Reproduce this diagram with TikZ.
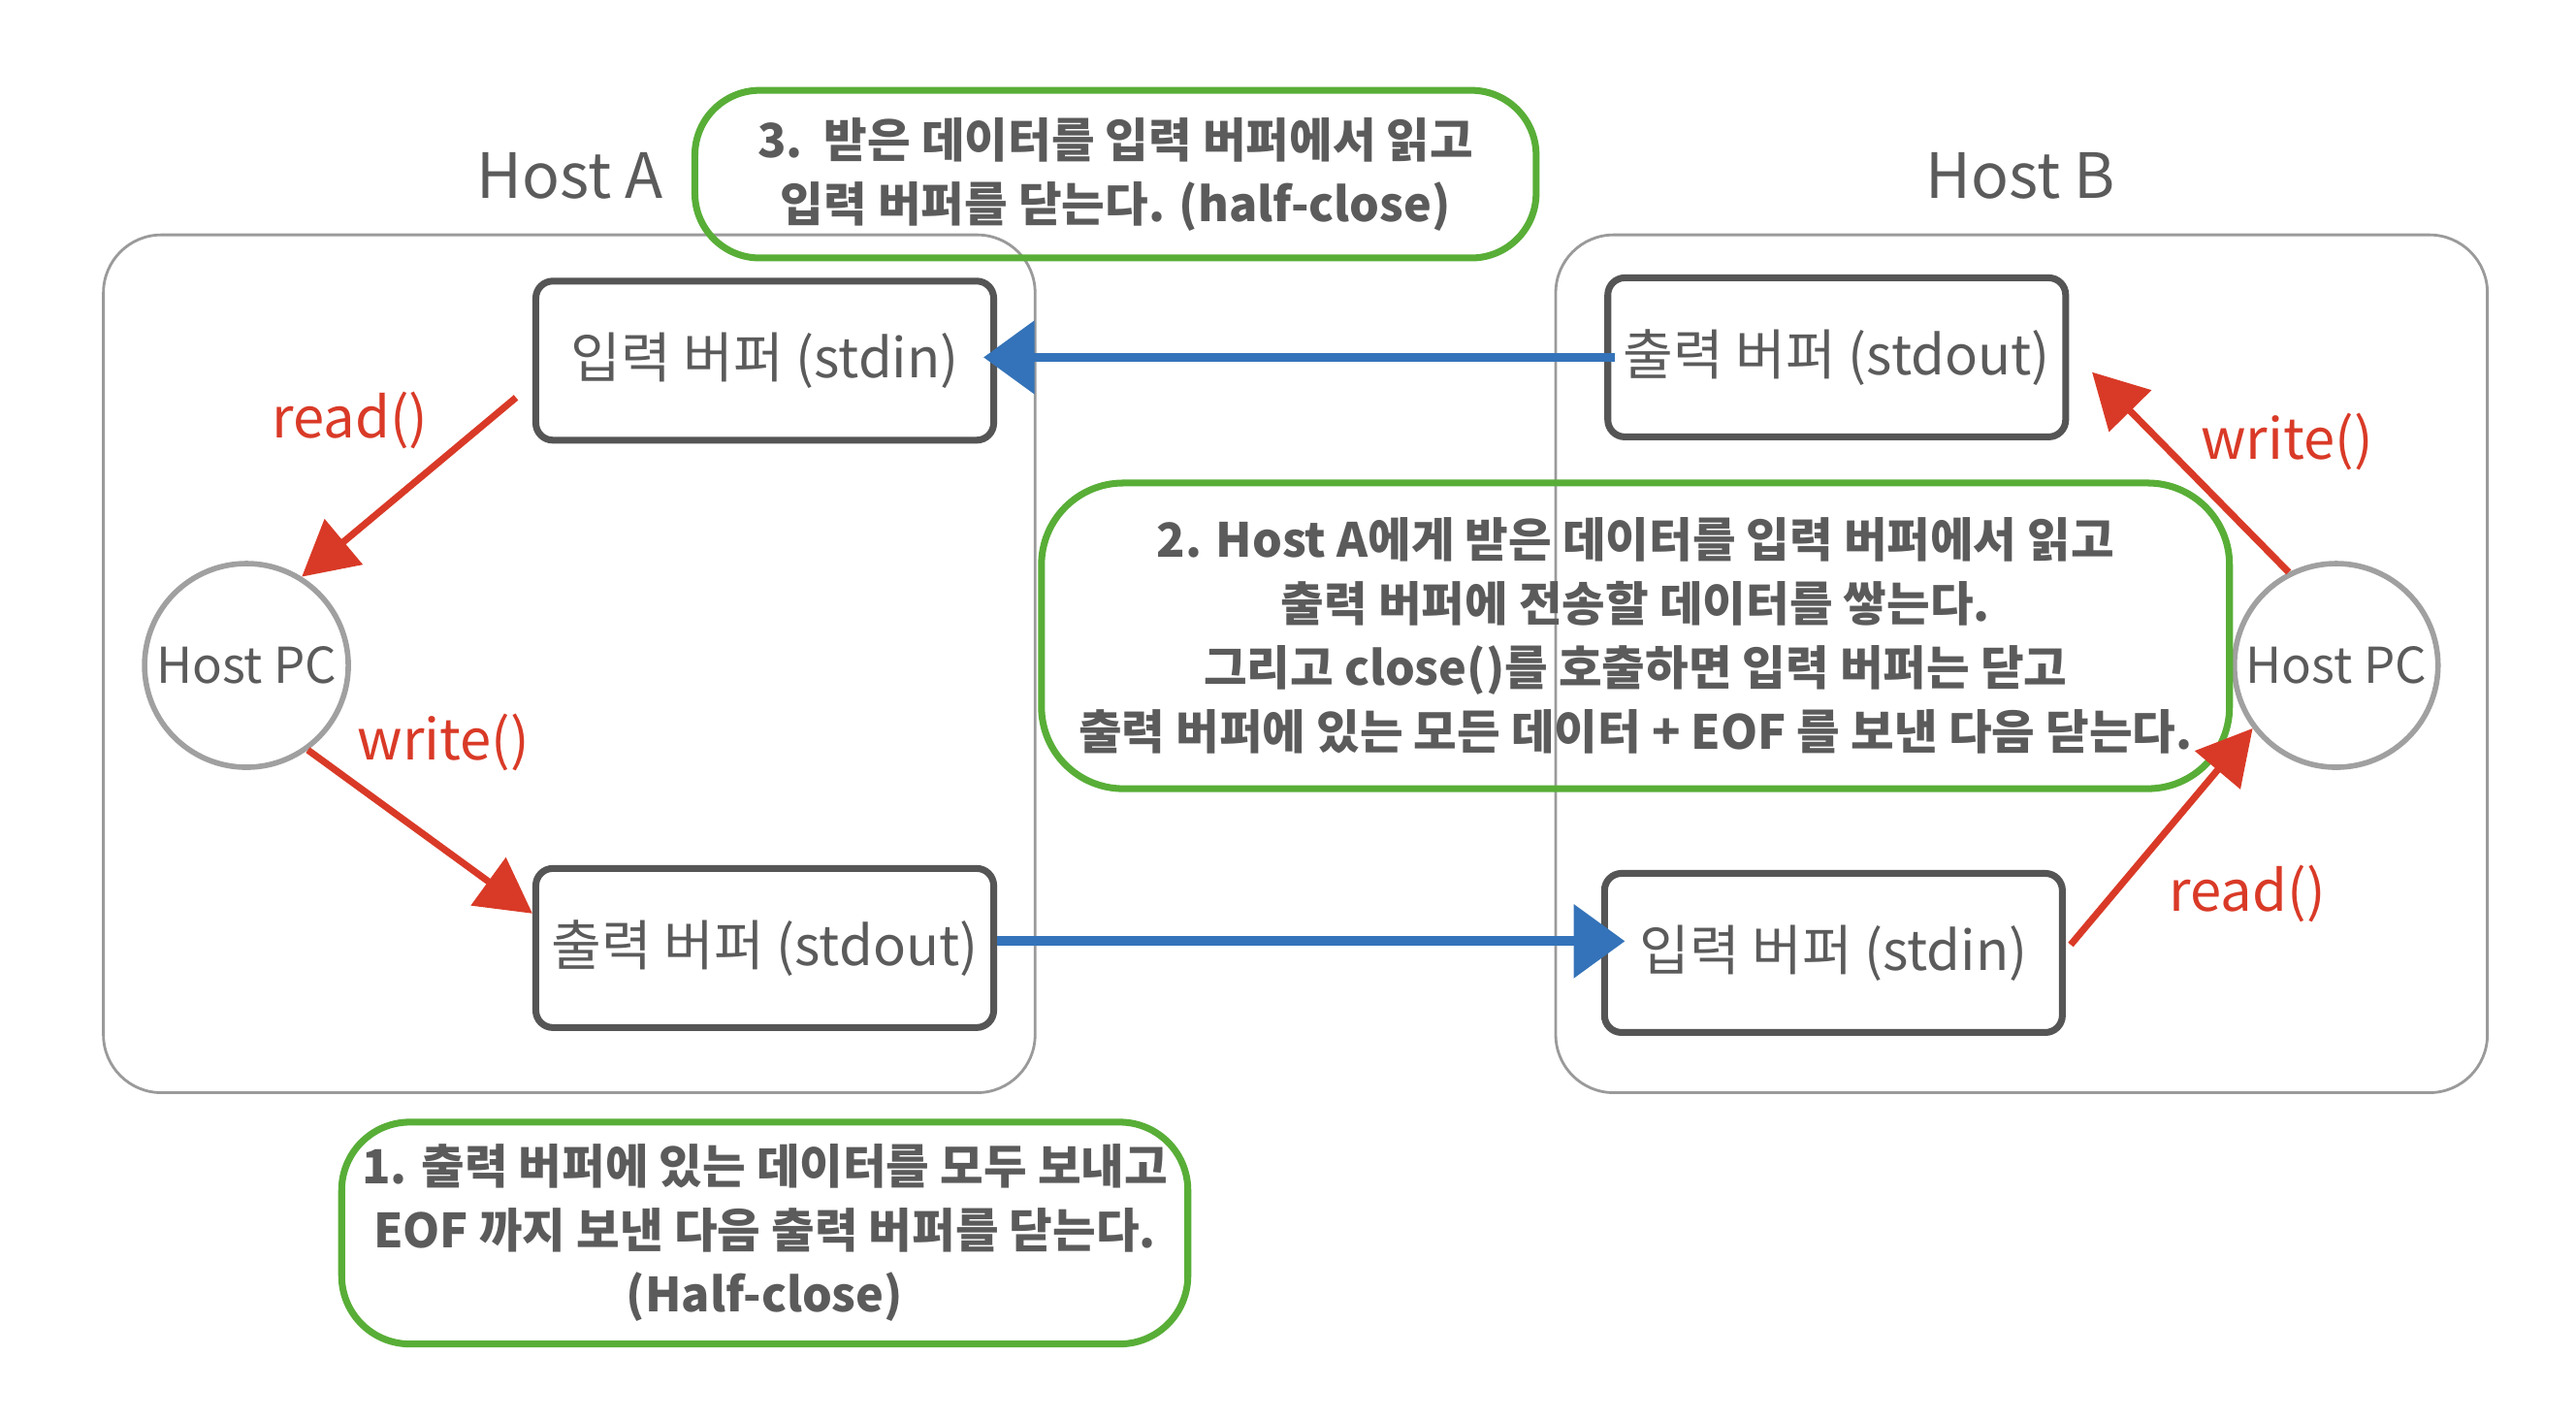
\documentclass[tikz,border=0pt]{standalone}
\usepackage{fontspec}
\setmainfont{Noto Sans CJK KR}
\usetikzlibrary{arrows.meta,calc}
\definecolor{txtgray}{HTML}{5B5B5B}
\definecolor{contgray}{HTML}{9A9A9A}
\definecolor{boxgray}{HTML}{555555}
\definecolor{circgray}{HTML}{A0A0A0}
\definecolor{notegreen}{HTML}{58AE37}
\definecolor{flowblue}{HTML}{3473B9}
\definecolor{callred}{HTML}{D93A27}
\begin{document}
\begin{tikzpicture}[x=0.01694cm,y=-0.01694cm,
  container/.style={draw=contgray,line width=0.8pt,rounded corners=17pt,minimum width=9.605cm,minimum height=8.843cm,inner sep=0pt},
  hostlabel/.style={text=txtgray,font=\fontsize{18.3}{22}\selectfont},
  bufbox/.style={draw=boxgray,line width=2pt,rounded corners=5pt,minimum width=4.72cm,minimum height=1.64cm,inner sep=0pt,text=txtgray,font=\fontsize{16}{20}\selectfont},
  hostpc/.style={circle,draw=circgray,line width=1.6pt,minimum size=2.1cm,inner sep=0pt,text=txtgray,font=\fontsize{14.5}{18}\selectfont},
  note/.style={draw=notegreen,line width=2pt,inner sep=0pt,align=center,text=txtgray,font=\bfseries\fontsize{13.8}{18.8}\selectfont},
  bluearrow/.style={draw=flowblue,line width=2.8pt,-{Triangle[length=15pt,width=21pt]}},
  redarrow/.style={draw=callred,line width=2pt,-{Triangle[length=16pt,width=17pt]}},
  calllabel/.style={text=callred,font=\fontsize{16.5}{20}\selectfont}]
\useasboundingbox (0,0) rectangle (1568,864);
\fill[white] (0,0) rectangle (1568,864);

% containers
\node[container] (hostA) at (346.5,404) {};
\node[container] (hostB) at (1230.5,404) {};
\node[hostlabel] (labA) at (347,107) {Host A};
\node[hostlabel] (labB) at (1230,107) {Host B};

% buffers
\node[bufbox] (inA) at (465.5,219.5) {입력 버퍼 (stdin)};
\node[bufbox] (outA) at (465.5,577) {출력 버퍼 (stdout)};
\node[bufbox] (outB) at (1118,217.5) {출력 버퍼 (stdout)};
\node[bufbox] (inB) at (1116,580) {입력 버퍼 (stdin)};

% host pcs
\node[hostpc] (pcA) at (150,405) {Host PC};
\node[hostpc] (pcB) at (1422,405) {Host PC};

% notes
\node[note,rounded corners=19pt,minimum width=8.673cm,minimum height=1.728cm] (n3) at (679,106)
  {3.\ \ 받은 데이터를 입력 버퍼에서 읽고\\입력 버퍼를 닫는다. (half-close)};
\node[note,rounded corners=24pt,minimum width=12.248cm,minimum height=3.151cm] (n2) at (995.5,387)
  {2. Host A에게 받은 데이터를 입력 버퍼에서 읽고\\출력 버퍼에 전송할 데이터를 쌓는다.\\그리고 close()를 호출하면 입력 버퍼는 닫고\\출력 버퍼에 있는 모든 데이터 + EOF 를 보낸 다음 닫는다.};
\node[note,rounded corners=20pt,minimum width=8.724cm,minimum height=2.287cm] (n1) at (465.5,750.5)
  {1. 출력 버퍼에 있는 데이터를 모두 보내고\\EOF 까지 보낸 다음 출력 버퍼를 닫는다.\\(Half-close)};

% blue transfers
\draw[bluearrow,shorten >=-4pt,shorten <=-3pt] (outB.west) -- (outB.west -| inA.east);
\draw[bluearrow,shorten >=-7pt] ([yshift=2pt]outA.east) -- ([yshift=2pt]outA.east -| inB.west);

% red calls
\draw[redarrow] ([shift={(-10,-28)}]inA.south west) -- (pcA.58);
\draw[redarrow] (pcA.-54) -- ([shift={(0,-21)}]outA.west);
\draw[redarrow] (pcB.117) -- ([shift={(14,9)}]outB.east);
\draw[redarrow] ([shift={(3,-5)}]inB.east) -- (pcB.217);

\node[calllabel] (rA) at (213,256) {read()};
\node[calllabel] (wA) at (270,452) {write()};
\node[calllabel] (wB) at (1392,269) {write()};
\node[calllabel] (rB) at (1368,544) {read()};
\end{tikzpicture}
\end{document}
